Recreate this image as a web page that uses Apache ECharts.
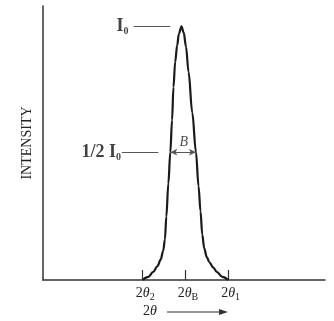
<!DOCTYPE html>
<html><head><meta charset="utf-8">
<script src="https://cdn.jsdelivr.net/npm/echarts@6/dist/echarts.min.js"></script>
<style>html,body{margin:0;padding:0;background:#fff}#c{width:334px;height:321px}</style>
</head><body><div id="c"></div>
<script>
// Peak profile (2θ in arbitrary units, intensity in % of I0)
const profileX = [35, 37, 38.7, 40.2, 41.3, 42.2, 42.8, 43.3, 44.0, 44.7, 45.3, 45.8, 46.4, 47.1, 47.7, 48.6, 49.4, 50.2, 51.1, 52.4, 53.7, 54.6, 55.3, 55.9, 56.6, 57.5, 58.4, 59.7, 61.1, 63, 65];
const profileY = [0, 1.2, 3.2, 5.5, 8, 11.5, 16, 25, 38, 50.4, 63, 76, 86, 92.5, 97, 100, 97.5, 92, 82, 66, 50.4, 37, 27, 18, 12.5, 9, 7, 5, 3.1, 1.2, 0];
const tickValues = [35, 50, 65];
const tickSubs = ['2', 'B', '1'];
const peakValue = 100;
const halfValue = 50.4;
const halfLeftX = 44.7, halfRightX = 53.7;
const i0LeaderX = [31.8, 44.7];
const halfLeaderX = [27.7, 40.5];

const serif = '"Liberation Serif","DejaVu Serif",serif';
const profile = profileX.map((x, i) => [x, profileY[i]]);

const chart = echarts.init(document.getElementById('c'), null, {renderer: 'canvas'});
chart.setOption({
  backgroundColor: '#fff',
  animation: false,
  grid: {left: 43, right: 9, top: 6, bottom: 41, containLabel: false},
  xAxis: {
    type: 'value', min: 0, max: 99,
    splitLine: {show: false},
    axisLine: {lineStyle: {color: '#333', width: 1.5}},
    axisTick: {show: true, inside: true, length: 10, customValues: tickValues, lineStyle: {color: '#333', width: 1.2}},
    axisLabel: {
      show: true, customValues: tickValues, margin: 5,
      formatter: v => {
        const i = tickValues.indexOf(v);
        return '{n|2}{i|θ}{s|' + tickSubs[i] + '}';
      },
      padding: [0, 0, 0, 5],
      rich: {
        n: {fontFamily: serif, fontSize: 14, color: '#222', lineHeight: 17},
        i: {fontFamily: serif, fontSize: 14, fontStyle: 'italic', color: '#222', lineHeight: 17},
        s: {fontFamily: serif, fontSize: 10, color: '#222', verticalAlign: 'bottom', lineHeight: 11}
      }
    }
  },
  yAxis: {
    type: 'value', min: 0, max: 108,
    splitLine: {show: false},
    axisLine: {show: true, lineStyle: {color: '#333', width: 1.5}},
    axisTick: {show: false},
    axisLabel: {show: false},
    name: 'INTENSITY', nameLocation: 'middle', nameGap: 9,
    nameTextStyle: {fontFamily: serif, fontSize: 14, color: '#222'}
  },
  series: [
    {
      type: 'line', data: profile, smooth: 0.35, smoothMonotone: 'x',
      symbol: 'none', lineStyle: {color: '#1a1a1a', width: 2.2},
      markLine: {
        silent: true, animation: false,
        label: {show: false},
        data: [
          [{coord: [i0LeaderX[0], peakValue], symbol: 'none'}, {coord: [i0LeaderX[1], peakValue], symbol: 'none'}],
          [{coord: [halfLeaderX[0], halfValue], symbol: 'none'}, {coord: [halfLeaderX[1], halfValue], symbol: 'none'}],
          [{coord: [halfLeftX, halfValue], symbol: 'arrow', symbolSize: [5, 7]}, {coord: [halfRightX, halfValue], symbol: 'arrow', symbolSize: [5, 7]}]
        ],
        lineStyle: {color: '#555', width: 1, type: 'solid'}
      }
    },
    {
      type: 'scatter', symbolSize: 0, silent: true,
      data: [
        {value: [i0LeaderX[0], peakValue], label: {show: true, position: 'left', distance: 5, formatter: '{b|I}{s|0}'}},
        {value: [halfLeaderX[0], halfValue], label: {show: true, position: 'left', distance: 1, formatter: '{b|1/2 I}{s|0}'}},
        {value: [(halfLeftX + halfRightX) / 2 + 0.2, halfValue], label: {show: true, position: 'top', distance: 3, formatter: '{it|B}'}}
      ],
      label: {
        rich: {
          b: {fontFamily: serif, fontWeight: 'bold', fontSize: 18, color: '#111', lineHeight: 20},
          s: {fontFamily: serif, fontWeight: 'bold', fontSize: 10, color: '#111', verticalAlign: 'bottom', lineHeight: 11},
          it: {fontFamily: serif, fontStyle: 'italic', fontSize: 14, color: '#222'}
        }
      }
    }
  ],
  graphic: [
    {type: 'text', left: 143, top: 304, style: {
      text: '{n|2}{i|θ}', fill: '#222',
      rich: {
        n: {fontFamily: serif, fontSize: 14, fill: '#222'},
        i: {fontFamily: serif, fontSize: 14, fontStyle: 'italic', fill: '#222'}
      }
    }},
    {type: 'line', shape: {x1: 167, y1: 312, x2: 222, y2: 312}, style: {stroke: '#333', lineWidth: 1.2}},
    {type: 'polygon', shape: {points: [[228, 312], [219, 309], [219, 315]]}, style: {fill: '#333'}}
  ]
});
</script></body></html>
